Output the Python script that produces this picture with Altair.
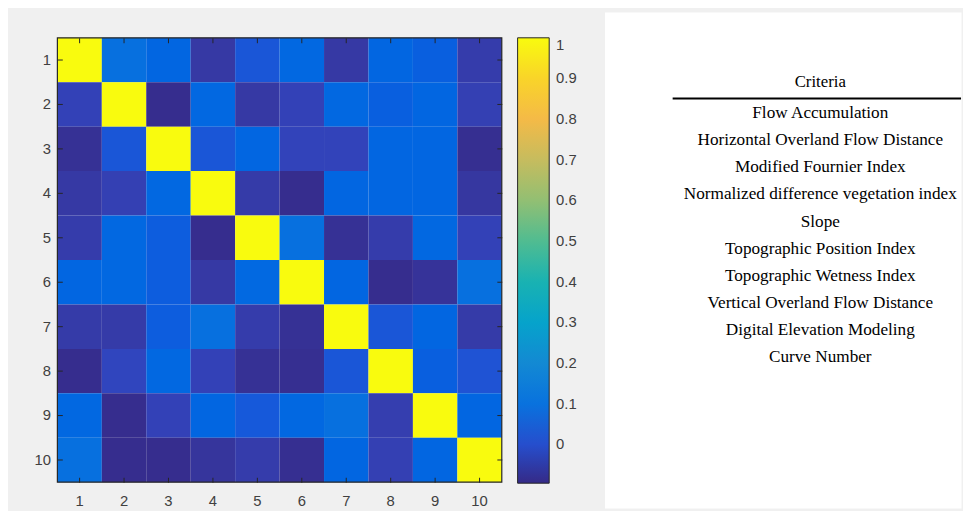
import altair as alt
import pandas as pd

# ---- data -------------------------------------------------------------
idx = [1, 2, 3, 4, 5, 6, 7, 8, 9, 10]

corr = [
    [1.0, 0.09, 0.055, -0.055, 0.015, 0.06, -0.055, 0.055, 0.035, -0.045],
    [-0.03, 1.0, -0.085, 0.06, -0.055, -0.03, 0.06, 0.035, 0.055, -0.035],
    [-0.075, 0.015, 1.0, 0.015, 0.055, -0.025, -0.025, 0.055, 0.055, -0.08],
    [-0.055, -0.035, 0.06, 1.0, -0.05, -0.085, 0.055, 0.055, 0.055, -0.06],
    [-0.045, 0.06, 0.03, -0.085, 1.0, 0.09, -0.075, -0.045, 0.06, -0.03],
    [0.055, 0.06, 0.03, -0.055, 0.065, 1.0, 0.055, -0.085, -0.07, 0.09],
    [-0.05, -0.05, 0.03, 0.09, -0.045, -0.075, 1.0, 0.015, 0.055, -0.05],
    [-0.085, -0.02, 0.06, -0.03, -0.075, -0.08, 0.015, 1.0, 0.035, 0.01],
    [0.06, -0.085, -0.03, 0.055, 0.02, 0.06, 0.09, -0.04, 1.0, 0.055],
    [0.09, -0.085, -0.085, -0.065, -0.045, -0.08, 0.055, -0.035, 0.055, 1.0],
]

color_domain = [-0.095, 1.0]
colorbar_ticks = [0, 0.1, 0.2, 0.3, 0.4, 0.5, 0.6, 0.7, 0.8, 0.9, 1]

header = "Criteria"
criteria = [
    "Flow Accumulation",
    "Horizontal Overland Flow Distance",
    "Modified Fournier Index",
    "Normalized difference vegetation index",
    "Slope",
    "Topographic Position Index",
    "Topographic Wetness Index",
    "Vertical Overland Flow Distance",
    "Digital Elevation Modeling",
    "Curve Number",
]

# MATLAB parula (64 levels)
parula = [
    "#352a87", "#363093", "#3637a0", "#353dad", "#3243ba", "#2c4ac7", "#2053d4", "#0f5cdd",
    "#0363e1", "#0268e1", "#046de0", "#0871de", "#0d75dc", "#1079da", "#127dd8", "#1481d6",
    "#1485d4", "#1389d3", "#108ed2", "#0c93d2", "#0998d1", "#079ccf", "#06a0cd", "#06a4ca",
    "#06a7c6", "#07a9c2", "#0aacbe", "#0faeb9", "#15b1b4", "#1db3af", "#25b5a9", "#2eb7a4",
    "#38b99e", "#42bb98", "#4dbc92", "#59bd8c", "#65be86", "#71bf80", "#7cbf7b", "#87bf77",
    "#92bf73", "#9cbf6f", "#a5be6b", "#aebe67", "#b7bd64", "#c0bc60", "#c8bc5d", "#d1bb59",
    "#d9ba56", "#e1b952", "#e9b94e", "#f1b94a", "#f8bb44", "#fdbe3d", "#ffc337", "#fec832",
    "#fcce2e", "#fad32a", "#f7d826", "#f5de21", "#f5e41d", "#f5eb18", "#f6f313", "#f9fb0e",
]

# ---- tables built from the lists -------------------------------------
cells = pd.DataFrame(
    [{"row": r, "col": c, "value": corr[r - 1][c - 1]} for r in idx for c in idx]
)
frame = pd.DataFrame({"c0": [idx[0]], "c1": [idx[-1]], "r0": [idx[0]], "r1": [idx[-1]]})

rows_df = pd.DataFrame({"label": criteria, "col": [header] * len(criteria)})
head_df = pd.DataFrame({"label": [header], "col": [header]})
rule_df = rows_df.iloc[:1]

# ---- styles -----------------------------------------------------------
AX = "#262626"
LAB = "#404040"
SANS = "Liberation Sans"
SERIF = "Liberation Serif"

xs = alt.Scale(domain=idx, padding=0)
ys = alt.Scale(domain=idx, range=[26, 476], padding=0)
cs = alt.Scale(domain=color_domain, range=parula, interpolate="rgb", nice=False, zero=False)

heat = alt.Chart(cells).mark_rect().encode(
    x=alt.X("col:O", scale=xs,
            axis=alt.Axis(orient="bottom", offset=-5, tickSize=5, domain=False, labelPadding=12,
                          labelAngle=0, title=None, tickColor=AX, labelColor=LAB,
                          labelFont=SANS, labelFontSize=15)),
    y=alt.Y("row:O", scale=ys,
            axis=alt.Axis(orient="left", offset=-5, tickSize=5, domain=False, labelPadding=7,
                          title=None, tickColor=AX, labelColor=LAB, minExtent=29, maxExtent=29,
                          labelFont=SANS, labelFontSize=15)),
    color=alt.Color("value:Q", scale=cs,
                    legend=alt.Legend(orient="none", legendX=466, legendY=26, direction="vertical",
                                      gradientLength=451, gradientThickness=32, title=None,
                                      values=colorbar_ticks, format="~g", labelFont=SANS,
                                      labelFontSize=15, labelColor=LAB, labelOffset=7,
                                      labelOverlap=False, labelBaseline="middle",
                                      gradientStrokeColor=AX, gradientStrokeWidth=1, padding=0)),
)

border = alt.Chart(frame).mark_rect(filled=False, stroke=AX, strokeWidth=1.2).encode(
    x=alt.X("c0:O", scale=xs, bandPosition=0,
            axis=alt.Axis(orient="top", offset=-31, tickSize=5, labels=False, domain=False,
                          title=None, tickColor=AX)),
    x2=alt.X2("c1", bandPosition=1),
    y=alt.Y("r0:O", scale=ys, bandPosition=0,
            axis=alt.Axis(orient="right", offset=-5, tickSize=5, labels=False, domain=False,
                          title=None, tickColor=AX)),
    y2=alt.Y2("r1", bandPosition=1),
)

left = alt.layer(heat, border).resolve_axis(x="independent", y="independent").properties(
    width=450, height=476
)

ty = alt.Scale(domain=[header] + criteria, range=[61.65, 362.5], padding=0)
tx = alt.Scale(domain=[header], range=[69, 368], padding=0)

rows = alt.Chart(rows_df).mark_text(font=SERIF, fontSize=17.4, color="black", baseline="middle").encode(
    x=alt.X("col:N", scale=tx, axis=None),
    y=alt.Y("label:N", scale=ty, axis=None),
    text="label:N",
)
head = alt.Chart(head_df).mark_text(font=SERIF, fontSize=17, color="black", baseline="middle", dy=-4).encode(
    x=alt.X("col:N", scale=tx, axis=None),
    y=alt.Y("label:N", scale=ty, axis=None),
    text="label:N",
)
line = alt.Chart(rule_df).mark_rule(color="black", strokeWidth=2, yOffset=-1.5).encode(
    x=alt.X("col:N", scale=tx, bandPosition=0, axis=None),
    x2=alt.value("width"),
    y=alt.Y("label:N", scale=ty, bandPosition=0, axis=None),
)

right = alt.layer(line, head, rows).properties(
    width=361, height=502, view=alt.ViewBackground(fill="white", stroke="transparent")
)

chart = alt.hconcat(left, right, spacing=101).properties(
    padding={"left": 25, "top": 0, "right": 0, "bottom": 0},
    background="#f0f0f0",
).configure_view(stroke="transparent")

chart.save("out.html", embed_options={"renderer": "svg", "actions": False})
